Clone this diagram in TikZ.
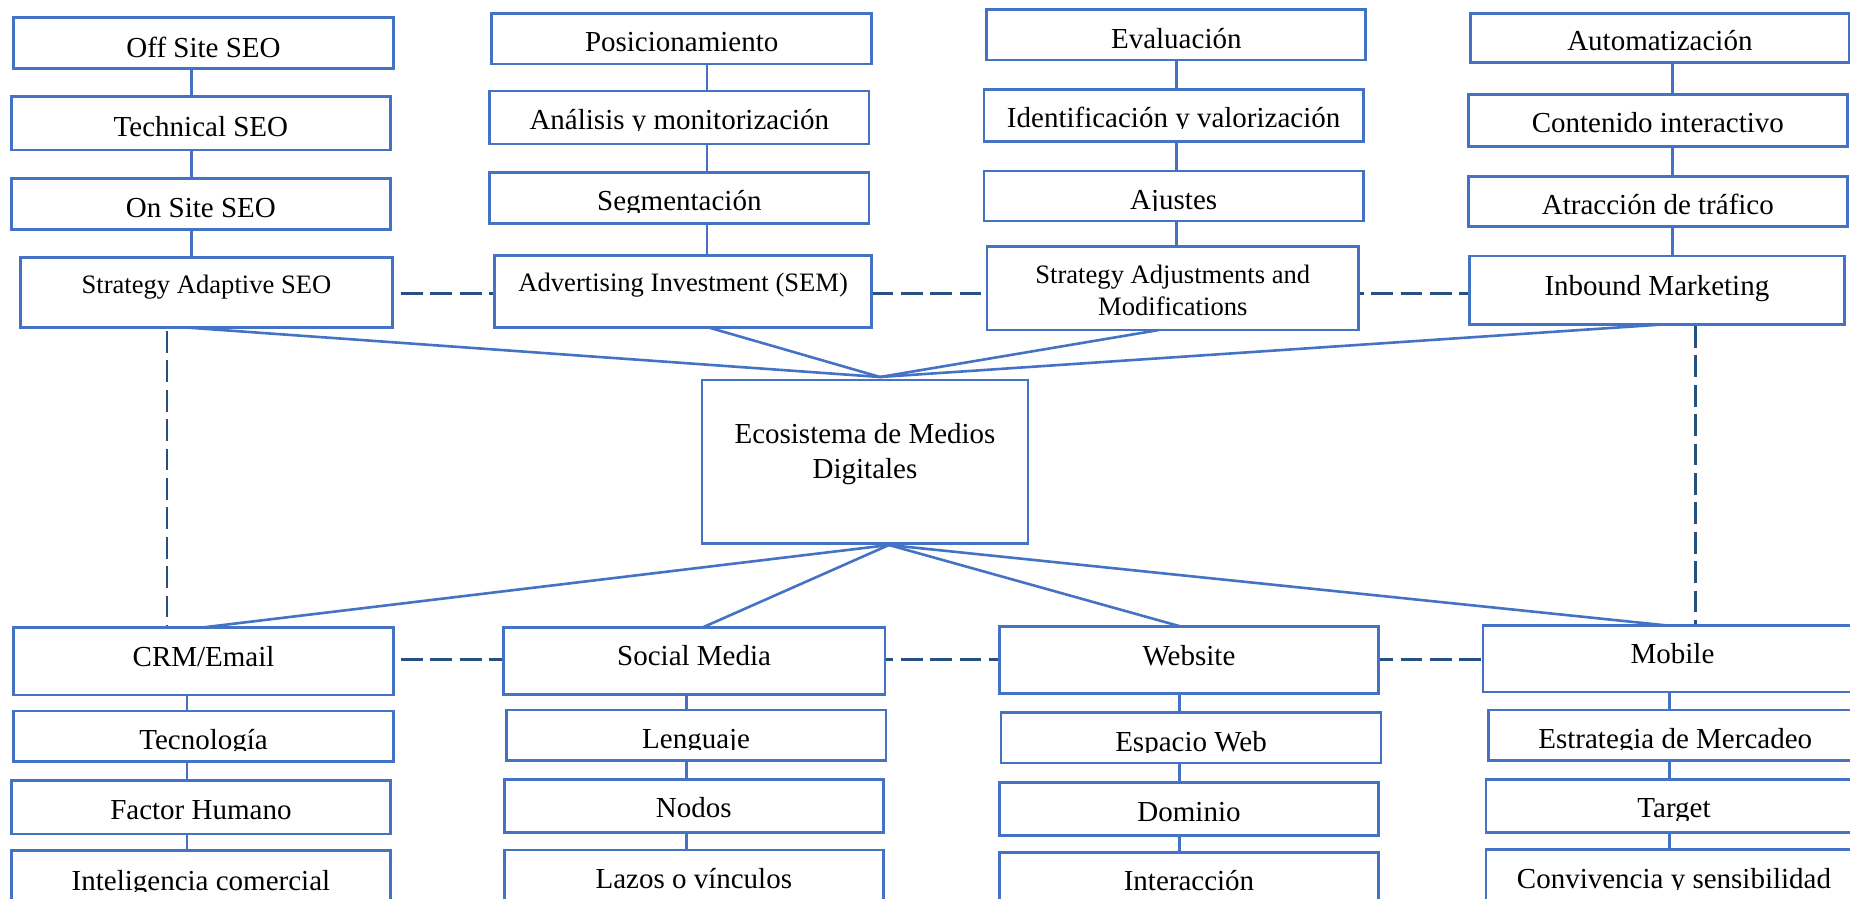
\documentclass[tikz,border=0pt]{standalone}
\usepackage{fontspec}
\setmainfont{Liberation Serif}
\pgfdeclarelayer{bg}
\pgfsetlayers{bg,main}
\definecolor{boxblue}{HTML}{4472C4}
\definecolor{dashblue}{HTML}{25507F}
\tikzset{
  box/.style={draw=boxblue, line width=2.9pt, fill=white, inner sep=0pt, outer sep=0pt},
  lbl/.style={anchor=base, inner sep=0pt, outer sep=0pt, font=\fontsize{29}{35}\selectfont},
  lblsm/.style={lbl, font=\fontsize{26.6}{31.6}\selectfont},
  link/.style={draw=boxblue, line width=2.6pt},
  dlink/.style={draw=dashblue, line width=2.8pt, dash pattern=on 21.7pt off 7.7pt},
}
% \bx{name}{x1}{y1}{x2}{y2}{baseline offset}{clip depth}{text style}{text}
\newcommand\bx[9]{%
  \pgfmathsetmacro\bxw{#4-#2}%
  \pgfmathsetmacro\bxh{#5-#3}%
  \node[box, minimum width=\bxw pt, minimum height=\bxh pt] (#1) at ({(#2+#4)/2},{(#3+#5)/2}) {};
  \begin{scope}
    \clip (#2,#3) rectangle (#4,{#3+#7});
    \node[#8] (#1-t) at ({(#2+#4)/2},{#3+#6}) {#9};
  \end{scope}}
\begin{document}
\begin{tikzpicture}[x=1pt, y=-1pt]
\useasboundingbox (0,0) rectangle (1850,899);
\clip (0,0) rectangle (1850,899);

% ---- upper columns ----
\bx{ofs}{13.6}{17.7}{393.5}{68.7}{39.5}{41}{lbl}{Off Site SEO}
\bx{tec}{11.2}{96.7}{390.6}{150}{39.3}{41}{lbl}{Technical SEO}
\bx{ons}{11.2}{178.3}{390.6}{229.3}{39.5}{41}{lbl}{On Site SEO}
\bx{sas}{20.6}{257.7}{392.3}{327.3}{35.6}{100}{lblsm}{Strategy Adaptive SEO}

\bx{pos}{491.4}{13.3}{871.9}{64}{38.4}{40}{lbl}{Posicionamiento}
\bx{ana}{489.7}{91}{869}{144}{38.3}{39.8}{lbl}{Análisis y monitorización}
\bx{seg}{489.7}{172.7}{869}{223.3}{38}{39.5}{lbl}{Segmentación}
\bx{adv}{494.4}{255.7}{871.9}{327.3}{36}{100}{lblsm}{Advertising Investment (SEM)}

\bx{eva}{986.9}{9.3}{1365.7}{60}{39}{41}{lbl}{Evaluación}
\bx{ide}{984}{89.3}{1363.3}{141.7}{38}{39.5}{lbl}{Identificación y valorización}
\bx{aju}{984}{171}{1363.3}{221}{38.3}{39.8}{lbl}{Ajustes}
\bx{sam}{987}{246.7}{1358.6}{330}{36.7}{100}{lblsm}{Strategy Adjustments and}
\node[lblsm] (sam-u) at ([yshift=-31.6pt]sam-t.base) {Modifications};

\bx{aut}{1470.7}{13.3}{1849}{62.7}{37.4}{40}{lbl}{Automatización}
\bx{con}{1468.4}{94.3}{1847.3}{146.7}{38.4}{40}{lbl}{Contenido interactivo}
\bx{atr}{1468.4}{176.7}{1847.3}{226.7}{37.6}{40}{lbl}{Atracción de tráfico}
\bx{inb}{1469.5}{256}{1844.3}{324.7}{39}{100}{lbl}{Inbound Marketing}

% ---- hub ----
\bx{eco}{702}{380}{1028}{543.3}{63.3}{200}{lbl}{Ecosistema de Medios}
\node[lbl] (eco-u) at ([yshift=-35pt]eco-t.base) {Digitales};

% ---- lower columns ----
\bx{crm}{13.6}{627.7}{393.5}{695}{38.3}{100}{lbl}{CRM/Email}
\bx{tcn}{13.6}{711}{393.5}{761.7}{38.3}{39.6}{lbl}{Tecnología}
\bx{fhu}{11.2}{780.7}{390.6}{834}{38.6}{40.5}{lbl}{Factor Humano}
\bx{itc}{11.2}{850.7}{390.6}{920}{39.3}{41}{lbl}{Inteligencia comercial}

\bx{soc}{503.2}{627.7}{885}{694.3}{37.6}{100}{lbl}{Social Media}
\bx{len}{506.2}{710}{886}{760.3}{38.3}{39.3}{lbl}{Lenguaje}
\bx{nod}{504.4}{779.3}{883.2}{832.3}{38}{40}{lbl}{Nodos}
\bx{laz}{504.4}{850}{883.2}{920}{38.3}{40}{lbl}{Lazos o vínculos}

\bx{web}{999.3}{626.7}{1378.7}{693.7}{38.6}{100}{lbl}{Website}
\bx{esp}{1001}{712.7}{1381}{763}{38.3}{39.6}{lbl}{Espacio Web}
\bx{dom}{999.3}{782.3}{1378.7}{835.3}{39.4}{41}{lbl}{Dominio}
\bx{itr}{999.3}{852.3}{1378.7}{920}{38.4}{40}{lbl}{Interacción}

\bx{mob}{1483}{625.3}{1862}{692}{38}{100}{lbl}{Mobile}
\bx{est}{1488.4}{710}{1862}{760.3}{38.3}{39.5}{lbl}{Estrategia de Mercadeo}
\bx{tar}{1486}{779.7}{1862}{832.3}{37.6}{40.3}{lbl}{Target}
\bx{cvs}{1486}{849.7}{1862}{920}{38.6}{40}{lbl}{Convivencia y sensibilidad}

% ---- reference points for connectors ----
\coordinate (cA) at (191.7,0);  \coordinate (cB) at (706.8,0);
\coordinate (cC) at (1176.3,0); \coordinate (cD) at (1672.5,0);
\coordinate (cE) at (187,0);    \coordinate (cF) at (686.7,0);
\coordinate (cG) at (1179.3,0); \coordinate (cH) at (1669.5,0);
\coordinate (pA) at (183,0);    \coordinate (pB) at (708,0);
\coordinate (pC) at (1159,0);   \coordinate (pD) at (1659.5,0);
\coordinate (qA) at (200.6,0);  \coordinate (qB) at (702,0);
\coordinate (qC) at (1181.6,0); \coordinate (qD) at (1665.4,0);
\coordinate (hubT) at (880,377);
\coordinate (hubB) at (889,545);
\coordinate (dT) at (401,293.3);
\coordinate (dB) at (401,659.3);
\coordinate (vL) at (167,331);
\coordinate (vR) at (1695.5,326);

% ---- column links ----
\draw[link] (ofs.south -| cA) -- (tec.north -| cA);
\draw[link] (tec.south -| cA) -- (ons.north -| cA);
\draw[link] (ons.south -| cA) -- (sas.north -| cA);
\draw[link] (pos.south -| cB) -- (ana.north -| cB);
\draw[link] (ana.south -| cB) -- (seg.north -| cB);
\draw[link] (seg.south -| cB) -- (adv.north -| cB);
\draw[link] (eva.south -| cC) -- (ide.north -| cC);
\draw[link] (ide.south -| cC) -- (aju.north -| cC);
\draw[link] (aju.south -| cC) -- (sam.north -| cC);
\draw[link] (aut.south -| cD) -- (con.north -| cD);
\draw[link] (con.south -| cD) -- (atr.north -| cD);
\draw[link] (atr.south -| cD) -- (inb.north -| cD);

\draw[link] (crm.south -| cE) -- (tcn.north -| cE);
\draw[link] (tcn.south -| cE) -- (fhu.north -| cE);
\draw[link] (fhu.south -| cE) -- (itc.north -| cE);
\draw[link] (soc.south -| cF) -- (len.north -| cF);
\draw[link] (len.south -| cF) -- (nod.north -| cF);
\draw[link] (nod.south -| cF) -- (laz.north -| cF);
\draw[link] (web.south -| cG) -- (esp.north -| cG);
\draw[link] (esp.south -| cG) -- (dom.north -| cG);
\draw[link] (dom.south -| cG) -- (itr.north -| cG);
\draw[link] (mob.south -| cH) -- (est.north -| cH);
\draw[link] (est.south -| cH) -- (tar.north -| cH);
\draw[link] (tar.south -| cH) -- (cvs.north -| cH);

% ---- links to the hub ----
\draw[link] (sas.south -| pA) -- (hubT);
\draw[link] (adv.south -| pB) -- (hubT);
\draw[link] (sam.south -| pC) -- (hubT);
\draw[link] (inb.south -| pD) -- (hubT);
\draw[link] (hubB) -- (crm.north -| qA);
\draw[link] (hubB) -- (soc.north -| qB);
\draw[link] (hubB) -- (web.north -| qC);
\draw[link] (hubB) -- (mob.north -| qD);

% ---- dashed links, behind the boxes ----
\begin{pgfonlayer}{bg}
  \fill[white] (0,0) rectangle (1850,899);
  \draw[dlink] (dT) -- (dT -| inb.west);
  \draw[dlink] (dB) -- (dB -| mob.west);
  \draw[dlink] (vL) -- (vL |- crm.north);
  \draw[dlink] (vR) -- (vR |- mob.north);
\end{pgfonlayer}
\end{tikzpicture}
\end{document}
